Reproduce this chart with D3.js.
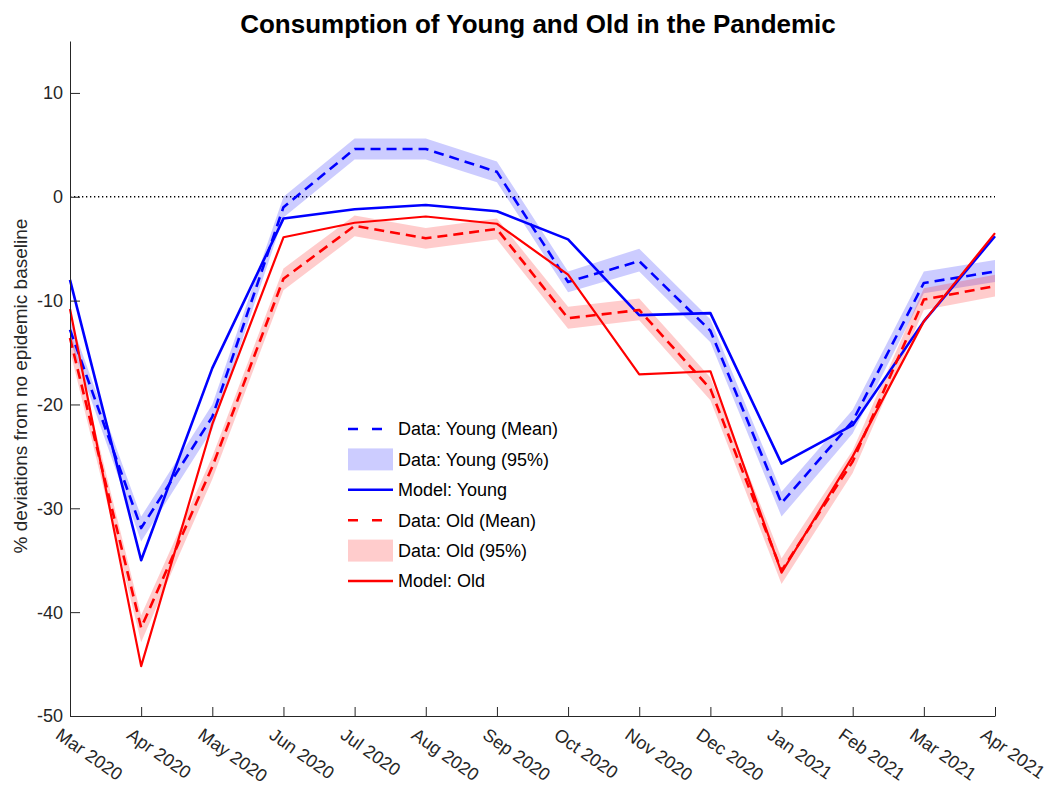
<!DOCTYPE html>
<html lang="en">
<head>
  <meta charset="utf-8">
  <title>consumption young old</title>
  <style>
  * { margin:0; padding:0; }
  body { background:#fff; }
  svg text { font-family: "Liberation Sans", Arial, Helvetica, sans-serif; fill:#262626; }
  </style>
  <script src="https://d3js.org/d3.v7.min.js"></script>
</head>
<body>
  <div id="chart"></div>
  <script type="text/javascript">
  // months on the x axis
  var months=["Mar 2020","Apr 2020","May 2020","Jun 2020","Jul 2020","Aug 2020","Sep 2020",
              "Oct 2020","Nov 2020","Dec 2020","Jan 2021","Feb 2021","Mar 2021","Apr 2021"];
  var yTicks=[-50,-40,-30,-20,-10,0,10];

  // young: data mean, 95% band, model
  var youngMean =[-12.8,-31.9,-21.2,-1.0, 4.6, 4.6, 2.4,-8.2,-6.2,-12.9,-29.5,-21.6,-8.3,-7.2];
  var youngUpper=[-11.8,-30.8,-20.0, 0.0, 5.6, 5.6, 3.4,-7.2,-5.0,-11.8,-28.4,-20.5,-7.2,-6.1];
  var youngLower=[-13.8,-33.2,-22.4,-2.0, 3.6, 3.6, 1.4,-9.2,-7.2,-14.0,-30.8,-22.8,-9.3,-8.2];
  var youngModel=[-8.0,-35.0,-16.5,-2.1,-1.2,-0.8,-1.4,-4.1,-11.4,-11.2,-25.7,-22.0,-12.0,-3.8];

  // old: data mean, 95% band, model
  var oldMean =[-13.6,-41.5,-26.0,-7.9,-2.8,-4.0,-3.1,-11.7,-10.9,-18.5,-36.0,-25.5,-9.9,-8.6];
  var oldUpper=[-12.6,-40.3,-25.0,-6.9,-1.8,-3.0,-2.1,-10.6,-9.8,-17.4,-34.8,-24.4,-8.8,-7.5];
  var oldLower=[-14.8,-42.9,-27.2,-9.0,-3.8,-5.0,-4.1,-12.7,-11.9,-19.6,-37.3,-26.6,-10.9,-9.6];
  var oldModel=[-10.8,-45.2,-21.9,-3.9,-2.5,-1.9,-2.6,-7.5,-17.1,-16.8,-36.2,-25.0,-12.0,-3.5];

  var w=1055, h=789;
  var svg=d3.select("#chart").append("svg").attr("width",w).attr("height",h);

  var x=d3.scalePoint().domain(months).range([70,995]);
  var y=d3.scaleLinear().domain([-50,15]).range([716,41]);

  var line=d3.line().x(function(d,i){return x(months[i]);}).y(function(d){return y(d);});
  var band=function(lo,hi){
    return d3.area()
      .x(function(d,i){return x(months[i]);})
      .y0(function(d,i){return y(lo[i]);})
      .y1(function(d,i){return y(hi[i]);})(lo);
  };

  // zero reference line
  svg.append("line")
    .attr("x1",x(months[0])).attr("x2",x(months[months.length-1]))
    .attr("y1",y(0)).attr("y2",y(0))
    .style("stroke","#000").style("stroke-width",1.3).style("stroke-dasharray","1.3,2.7");

  // bands
  svg.append("path").attr("d",band(youngLower,youngUpper))
    .style("fill","#0000ff").style("fill-opacity",0.2).style("stroke","none");
  svg.append("path").attr("d",band(oldLower,oldUpper))
    .style("fill","#ff0000").style("fill-opacity",0.2).style("stroke","none");

  var series=[
    {v:youngMean,c:"#0000ff",dash:"10,6",wd:2.6},
    {v:youngModel,c:"#0000ff",dash:null,wd:2.6},
    {v:oldMean,c:"#ff0000",dash:"10,6",wd:2.6},
    {v:oldModel,c:"#ff0000",dash:null,wd:2.2}
  ];
  series.forEach(function(s){
    svg.append("path").attr("d",line(s.v))
      .style("fill","none").style("stroke",s.c).style("stroke-width",s.wd)
      .style("stroke-dasharray",s.dash).style("stroke-linejoin","round");
  });

  // axes (matlab style: ticks inward, no box)
  var axCol="#262626";
  var gx=svg.append("g").attr("transform","translate(0,"+y(-50)+")")
    .call(d3.axisBottom(x).tickSize(-9).tickSizeOuter(0).tickFormat(""));
  var gy=svg.append("g").attr("transform","translate("+x(months[0])+",0)")
    .call(d3.axisLeft(y).tickValues(yTicks).tickSize(-10).tickSizeOuter(0).tickFormat(""));
  [gx,gy].forEach(function(g){
    g.select(".domain").style("stroke",axCol).style("stroke-width",1);
    g.selectAll(".tick line").style("stroke",axCol).style("stroke-width",1);
  });

  svg.selectAll(".ylab").data(yTicks).enter().append("text")
    .attr("x",63).attr("y",function(d){return y(d);}).attr("dy","0.36em")
    .style("text-anchor","end").style("font-size","18px")
    .text(function(d){return d;});

  svg.selectAll(".xlab").data(months).enter().append("text")
    .attr("transform",function(d){return "translate("+(x(d)-8)+",727) rotate(35)";})
    .attr("dy","0.72em")
    .style("text-anchor","start").style("font-size","18px")
    .text(function(d){return d;});

  svg.append("text")
    .attr("transform","translate(27,386) rotate(-90)")
    .style("text-anchor","middle").style("font-size","19px")
    .text("% deviations from no epidemic baseline");

  svg.append("text")
    .attr("x",538).attr("y",33)
    .style("text-anchor","middle").style("font-size","26px").style("font-weight","bold")
    .style("fill","#000")
    .text("Consumption of Young and Old in the Pandemic");

  // legend
  var legendItems=[
    {label:"Data: Young (Mean)",c:"#0000ff",type:"dash"},
    {label:"Data: Young (95%)",c:"#0000ff",type:"patch"},
    {label:"Model: Young",c:"#0000ff",type:"line"},
    {label:"Data: Old (Mean)",c:"#ff0000",type:"dash"},
    {label:"Data: Old (95%)",c:"#ff0000",type:"patch"},
    {label:"Model: Old",c:"#ff0000",type:"line"}
  ];
  var lg=svg.selectAll(".leg").data(legendItems).enter().append("g")
    .attr("transform",function(d,i){return "translate(348,"+(429+i*30.4)+")";});
  lg.each(function(d){
    var g=d3.select(this);
    if(d.type=="patch"){
      g.append("rect").attr("x",0).attr("y",-11).attr("width",45).attr("height",22)
        .style("fill",d.c).style("fill-opacity",0.2);
    } else {
      g.append("line").attr("x1",0).attr("x2",45).attr("y1",0).attr("y2",0)
        .style("stroke",d.c).style("stroke-width",2.6)
        .style("stroke-dasharray",d.type=="dash"?"10,14":null);
    }
    g.append("text").attr("x",50).attr("y",0).attr("dy","0.36em")
      .style("font-size","18px").style("fill","#000").text(d.label);
  });
  </script>
</body>
</html>
